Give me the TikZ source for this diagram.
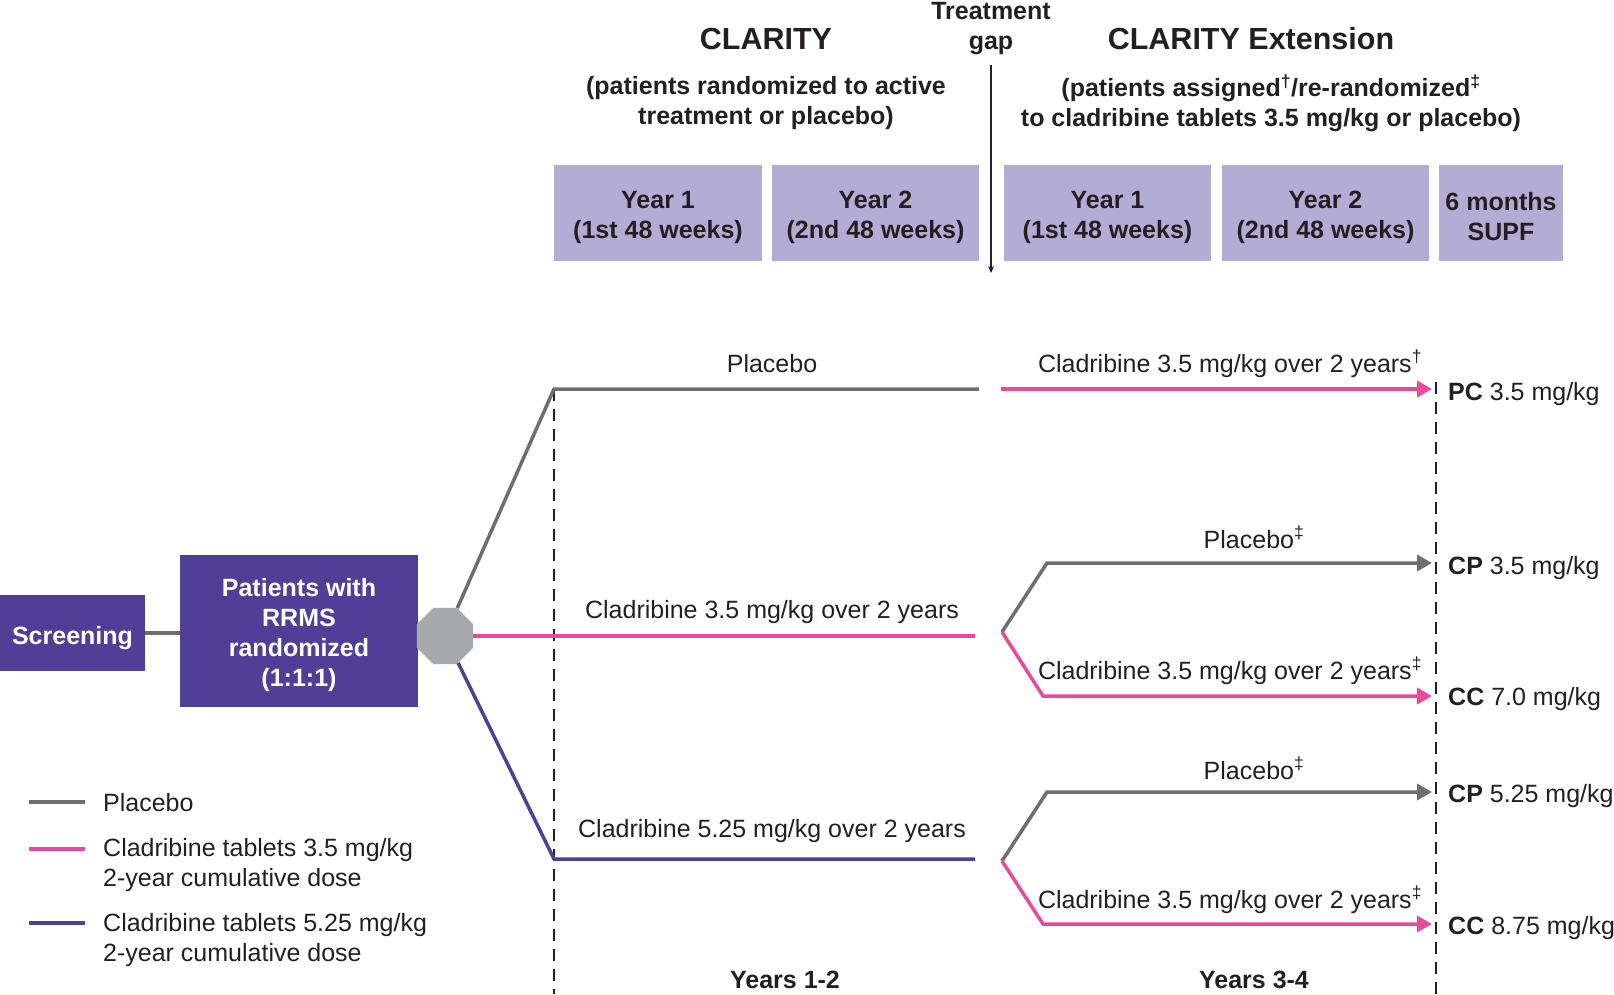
\documentclass[tikz,border=0pt]{standalone}
\usepackage{fontspec}
\setmainfont{Liberation Sans}
\usetikzlibrary{shapes.geometric,arrows.meta}

\definecolor{txt}{HTML}{231F20}
\definecolor{plgray}{HTML}{6D6E71}
\definecolor{cladpink}{HTML}{E84A9B}
\definecolor{cladpurple}{HTML}{4F3F96}
\definecolor{lavender}{HTML}{B3ADD6}
\definecolor{octgray}{HTML}{A7A9AC}

\newcommand\figfont{\fontsize{25}{30}\selectfont}
\newcommand\headfont{\fontsize{30.5}{36}\selectfont\bfseries}

\tikzset{
  lbl/.style={font=\figfont, text=txt, inner sep=0pt},
  yearbox/.style={fill=lavender, minimum height=96pt, inner sep=0pt},
  yeartext/.style={lbl, align=center, font=\figfont\bfseries},
  armbox/.style={fill=cladpurple, inner sep=0pt},
  armtext/.style={lbl, align=center, font=\figfont\bfseries, text=white},
  arm/.style={line width=3.5pt, line join=miter},
  arrowarm/.style={arm, -{Triangle[length=15pt,width=16pt]}},
  divider/.style={line width=1.5pt, dash pattern=on 12pt off 8pt, txt}
}

\begin{document}
\begin{tikzpicture}[x=1pt, y=-1pt]
    \useasboundingbox (0,0) rectangle (1614,994);

    % Draw the headers
    \node[lbl, font=\headfont, anchor=base] (clar) at (766,49) {CLARITY};
    \node[lbl, font=\headfont, anchor=base] (clarext) at (1251,49) {CLARITY Extension};
    \node[lbl, font=\figfont\bfseries, align=center] (clarsub) at (766,103) {(patients randomized to active\\treatment or placebo)};
    \node[lbl, font=\figfont\bfseries, align=center] (extsub) at (1271,103) {(patients assigned\textsuperscript{†}/re-randomized\textsuperscript{‡}\\to cladribine tablets 3.5 mg/kg or placebo)};
    \node[lbl, font=\figfont\bfseries, align=center] (gap) at (991,29) {Treatment\\gap};

    % Draw the year boxes
    \foreach \cx/\w/\name/\txt in {658/208/ya/{Year 1\\(1st 48 weeks)}, 875.5/207/yb/{Year 2\\(2nd 48 weeks)},
        1107.5/207/yc/{Year 1\\(1st 48 weeks)}, 1325.5/207/yd/{Year 2\\(2nd 48 weeks)}, 1501/124/ye/{6 months\\SUPF}} {
        \node[yearbox, minimum width=\w pt] (\name) at (\cx,213) {};
        \node[yeartext] (\name txt) at ([yshift=-4pt]\name.center) {\txt};
    }

    % Draw the treatment gap arrow
    \coordinate (gaptop) at (991,65);
    \coordinate (gapend) at (991,273);
    \draw[line width=1.5pt, txt, -{Stealth[length=7pt,width=6pt]}] (gaptop) -- (gapend);

    % Draw screening and randomization
    \node[armbox, minimum width=145pt, minimum height=76pt] (screen) at (72.5,633) {};
    \node[armtext] (screentxt) at ([yshift=-5pt]screen.center) {Screening};
    \node[armbox, minimum width=238pt, minimum height=152pt] (rand) at (299,631) {};
    \node[armtext] (randtxt) at ([yshift=-4pt]rand.center) {Patients with\\RRMS\\randomized\\(1:1:1)};
    \node[regular polygon, regular polygon sides=8, minimum size=61pt, inner sep=0pt, fill=octgray] (oct) at (445,636) {};
    \draw[arm, plgray] (screen.east) -- (screen.east -| rand.west);

    % Draw the dividers
    \coordinate (pla) at (554,389);
    \coordinate (dvl) at (554,994);
    \coordinate (dvrtop) at (1436,382);
    \coordinate (dvr) at (1436,994);
    \draw[divider] (pla) -- (dvl);
    \draw[divider] (dvrtop) -- (dvr);

    % Draw the arms of years 1-2
    \coordinate (plb) at (979,389);
    \coordinate (cla) at (975,636);
    \coordinate (cpa) at (554,859);
    \coordinate (cpb) at (975,859);
    \draw[arm, plgray] (oct) -- (pla) -- (plb);
    \draw[arm, cladpink] (oct) -- (cla);
    \draw[arm, cladpurple] (oct) -- (cpa) -- (cpb);

    % Draw the arms of years 3-4
    \coordinate (pcs) at (1001,389);
    \coordinate (pce) at (1432,389);
    \draw[arrowarm, cladpink] (pcs) -- (pce);
    \foreach \fy/\py/\cy/\n in {632/563/696/a, 861/792/924/b} {
        \coordinate (fork\n) at (1002,\fy);
        \coordinate (plbend\n) at (1047,\py);
        \coordinate (plbtip\n) at (1432,\py);
        \coordinate (cladbend\n) at (1043,\cy);
        \coordinate (cladtip\n) at (1432,\cy);
        \draw[arrowarm, plgray] (fork\n) -- (plbend\n) -- (plbtip\n);
        \draw[arrowarm, cladpink] (fork\n) -- (cladbend\n) -- (cladtip\n);
    }

    % Add arm labels
    \node[lbl, anchor=base] (lpl) at (772,372) {Placebo};
    \node[lbl, anchor=base] (lcl) at (772,618) {Cladribine 3.5 mg/kg over 2 years};
    \node[lbl, anchor=base] (lcp) at (772,837) {Cladribine 5.25 mg/kg over 2 years};
    \node[lbl, anchor=base] (lpc) at (1230,372) {Cladribine 3.5 mg/kg over 2 years\textsuperscript{†}};
    \node[lbl, anchor=base] (lpa) at (1254,548) {Placebo\textsuperscript{‡}};
    \node[lbl, anchor=base] (lca) at (1230,679) {Cladribine 3.5 mg/kg over 2 years\textsuperscript{‡}};
    \node[lbl, anchor=base] (lpb) at (1254,779) {Placebo\textsuperscript{‡}};
    \node[lbl, anchor=base] (lcb) at (1230,908) {Cladribine 3.5 mg/kg over 2 years\textsuperscript{‡}};

    % Add outcome labels
    \foreach \y/\n/\txt in {400/pc/{\textbf{PC} 3.5 mg/kg}, 574/cpa/{\textbf{CP} 3.5 mg/kg}, 705/cca/{\textbf{CC} 7.0 mg/kg},
        802/cpb/{\textbf{CP} 5.25 mg/kg}, 934/ccb/{\textbf{CC} 8.75 mg/kg}}
        \node[lbl, anchor=base west] (out\n) at (1448,\y) {\txt};

    % Add period labels
    \node[lbl, font=\figfont\bfseries, anchor=base] (yrsa) at (785,988) {Years 1-2};
    \node[lbl, font=\figfont\bfseries, anchor=base] (yrsb) at (1254,988) {Years 3-4};

    % Draw the legend
    \foreach \ly/\ty/\col/\n/\txt in {802/803/plgray/a/Placebo,
        849/865/cladpink/b/{Cladribine tablets 3.5 mg/kg\\2-year cumulative dose},
        923/940/cladpurple/c/{Cladribine tablets 5.25 mg/kg\\2-year cumulative dose}} {
        \coordinate (key\n) at (29,\ly);
        \coordinate (keyend\n) at (85,\ly);
        \draw[arm, \col] (key\n) -- (keyend\n);
        \node[lbl, anchor=west, align=left] (leg\n) at (103,\ty) {\txt};
    }

\end{tikzpicture}
\end{document}
